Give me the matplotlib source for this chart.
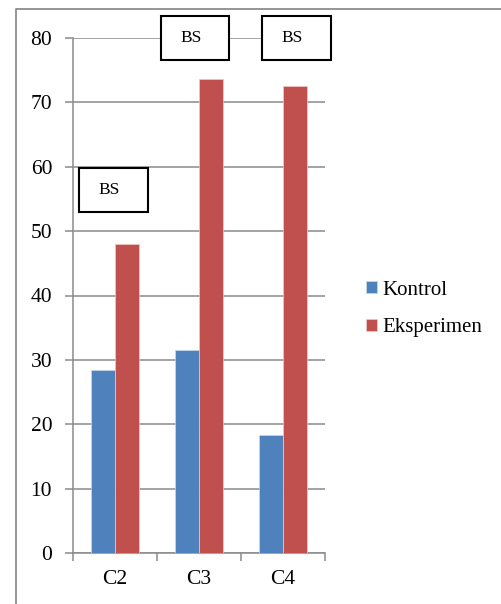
import numpy as np
import matplotlib.pyplot as plt
from matplotlib.lines import Line2D
from matplotlib.patches import Rectangle

categories = ['C2', 'C3', 'C4']
kontrol = [28.5, 31.5, 18.3]
eksperimen = [48.0, 73.6, 72.5]
y_ticks = [0, 10, 20, 30, 40, 50, 60, 70, 80]
notes = ['BS', 'BS', 'BS']

W, H = 502, 604
blue = '#4F81BD'
red = '#C0504D'
grid_col = '#8a8a8a'

plt.rcParams['font.family'] = ['Liberation Serif', 'DejaVu Serif']

fig = plt.figure(figsize=(W / 100, H / 100), dpi=100)
ax = fig.add_axes([73 / W, 1 - 553 / H, (325 - 73) / W, (553 - 38) / H])

x = np.arange(len(categories))
bw = 0.28
ax.bar(x - bw / 2, kontrol, bw, color=blue, edgecolor='#c9d6ea', linewidth=0.5,
       label='Kontrol', zorder=3)
ax.bar(x + bw / 2, eksperimen, bw, color=red, edgecolor='#f0caca', linewidth=0.5,
       label='Eksperimen', zorder=3)

ax.set_xlim(-0.5, len(categories) - 0.5)
ax.set_ylim(0, 80)
ax.set_yticks(y_ticks)
ax.set_xticks(x)
ax.set_xticklabels(categories)
ax.set_xticks(np.arange(len(categories) + 1) - 0.5, minor=True)

ax.yaxis.grid(True, color=grid_col, linewidth=1.1, zorder=0)
for s in ['top', 'right']:
    ax.spines[s].set_visible(False)
for s in ['left', 'bottom']:
    ax.spines[s].set_color(grid_col)
    ax.spines[s].set_linewidth(1.1)

ax.tick_params(axis='y', length=6, width=1.1, color=grid_col, pad=9,
               labelsize=15.5)
ax.tick_params(axis='x', which='major', length=0, pad=12, labelsize=15.5)
ax.tick_params(axis='x', which='minor', length=6, width=1.1, color=grid_col)

# significance boxes above the bars
boxes = [(79, 168, 69, 44), (161, 16, 68, 44), (262, 16, 69, 44)]
for (bx, by, bwid, bh), txt in zip(boxes, notes):
    rect = Rectangle((bx / W, 1 - (by + bh) / H), bwid / W, bh / H,
                     transform=fig.transFigure, facecolor='white',
                     edgecolor='black', linewidth=1.5, zorder=5)
    fig.add_artist(rect)
    fig.text((bx + bwid / 2 - 4) / W, 1 - (by + bh / 2) / H, txt,
             ha='center', va='center', fontsize=12.5, zorder=6)

fig.legend(loc='center left', bbox_to_anchor=(366 / W, 1 - 309 / H),
           frameon=False, fontsize=15, handlelength=0.53, handleheight=0.53,
           handletextpad=0.25, labelspacing=0.9, borderpad=0,
           borderaxespad=0)

# outer chart border (left and top edges)
fig.add_artist(Line2D([16 / W, 16 / W, 1], [0, 1 - 9 / H, 1 - 9 / H],
                      transform=fig.transFigure, color='#8c8c8c',
                      linewidth=1.3))

fig.savefig('out.png', dpi=100)
